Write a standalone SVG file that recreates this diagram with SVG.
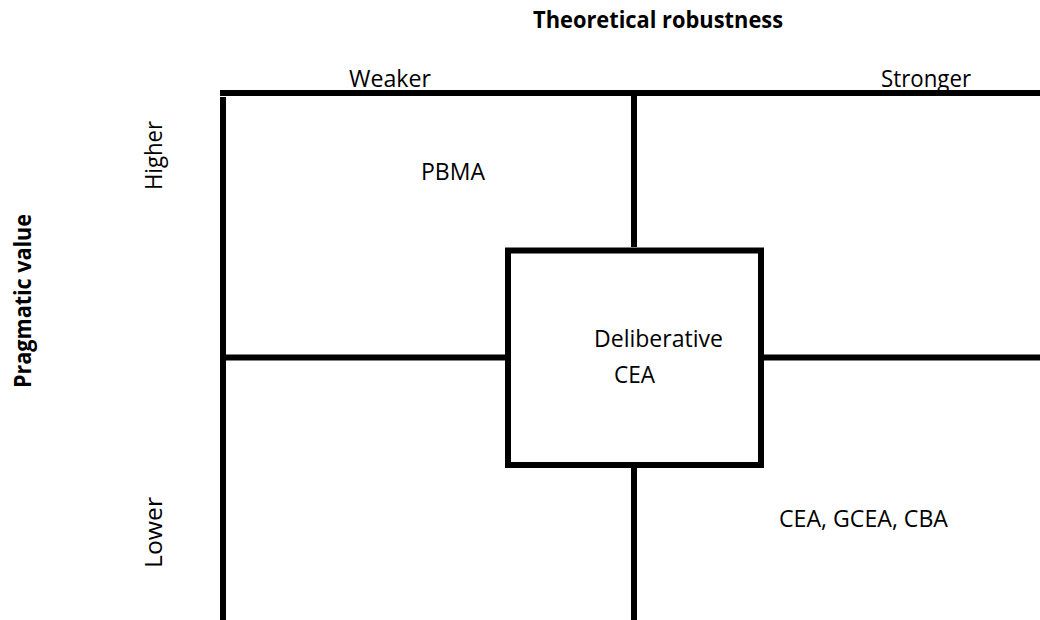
<svg xmlns="http://www.w3.org/2000/svg" width="1040" height="620" viewBox="0 0 1040 620">
<style>
.t{font-family:"Open Sans","Noto Sans","Liberation Sans",sans-serif;font-size:23px;fill:#000}
.b{font-weight:bold}
.ln{stroke:#000;stroke-width:6;fill:none}
</style>
<rect width="1040" height="620" fill="#fff"/>
<g id="axis-titles">
<text class="t b" x="533" y="28" textLength="250" lengthAdjust="spacingAndGlyphs">Theoretical robustness</text>
<text class="t b" transform="translate(30.5,388) rotate(-90)" x="0" y="0" textLength="174" lengthAdjust="spacingAndGlyphs">Pragmatic value</text>
</g>
<g id="axis-labels">
<text class="t" x="349" y="87" textLength="82" lengthAdjust="spacingAndGlyphs">Weaker</text>
<text class="t" x="881" y="87" textLength="90" lengthAdjust="spacingAndGlyphs">Stronger</text>
<text class="t" transform="translate(161.5,190) rotate(-90)" x="0" y="0" textLength="69" lengthAdjust="spacingAndGlyphs">Higher</text>
<text class="t" transform="translate(161.5,568) rotate(-90)" x="0" y="0" textLength="71" lengthAdjust="spacingAndGlyphs">Lower</text>
</g>
<g id="connectors">
<line class="ln" x1="220" y1="93" x2="1040" y2="93"/>
<line class="ln" x1="223" y1="97" x2="223" y2="620"/>
<line class="ln" x1="634" y1="96" x2="634" y2="247"/>
<line class="ln" x1="634" y1="468" x2="634" y2="620"/>
<line class="ln" x1="226" y1="357.5" x2="505" y2="357.5"/>
<line class="ln" x1="764" y1="357.5" x2="1040" y2="357.5"/>
</g>
<g id="node-pbma">
<text class="t" x="421" y="180" textLength="64" lengthAdjust="spacingAndGlyphs">PBMA</text>
</g>
<g id="node-deliberative-cea">
<rect class="ln" x="508" y="250.5" width="253" height="214.5"/>
<text class="t" x="594" y="347" textLength="129" lengthAdjust="spacingAndGlyphs">Deliberative</text>
<text class="t" x="614" y="383" textLength="41" lengthAdjust="spacingAndGlyphs">CEA</text>
</g>
<g id="node-cea-gcea-cba">
<text class="t" x="779" y="527" textLength="169" lengthAdjust="spacingAndGlyphs">CEA, GCEA, CBA</text>
</g>
</svg>
